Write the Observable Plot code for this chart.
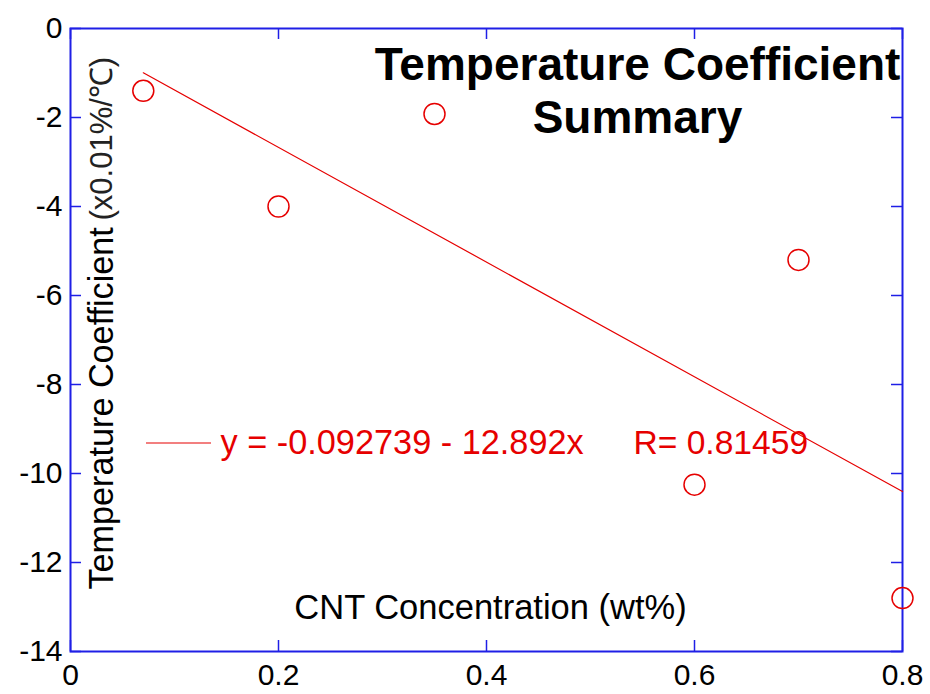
<!DOCTYPE html>
<html><head><meta charset="utf-8">
<script src="https://cdn.jsdelivr.net/npm/d3@7"></script>
<script src="https://cdn.jsdelivr.net/npm/@observablehq/plot@0.6"></script>
<style>body{margin:0;background:#fff;} svg{display:block;}</style>
</head><body><div id="chart"></div>
<script>
const concentration = [0.07, 0.2, 0.35, 0.6, 0.7, 0.8];
const tempCoefficient = [-1.4, -4.0, -1.92, -10.25, -5.2, -12.8];
const fitIntercept = -0.092739;
const fitSlope = -12.892;
const fitR = 0.81459;
const fitRange = [0.07, 0.8];
const xTicks = [0, 0.2, 0.4, 0.6, 0.8];
const yTicks = [0, -2, -4, -6, -8, -10, -12, -14];
const titleLines = ["Temperature Coefficient", "Summary"];
const xLabel = "CNT Concentration (wt%)";
const yLabelMain = "Temperature Coefficient";
const yLabelUnit = "(x0.01%/\u2103)";

const points = concentration.map((x, i) => ({x, y: tempCoefficient[i]}));
const fit = fitRange.map(x => ({x, y: fitIntercept + fitSlope * x}));
const eqText = `y = ${fitIntercept} - ${Math.abs(fitSlope)}x`;
const rText = `R= ${fitR}`;

const W = 930, H = 694;
const mL = 70, mT = 28, mR = 28, mB = 43;
const innerW = W - mL - mR, innerH = H - mT - mB;
const BLUE = "#1f1fe6", RED = "#e60000";
const FONT = "Liberation Sans, Arial, Helvetica, sans-serif";

const chart = Plot.plot({
  width: W, height: H,
  marginLeft: mL, marginTop: mT, marginRight: mR, marginBottom: mB,
  style: {fontFamily: FONT, fontSize: "30px", color: "black", background: "white"},
  x: {domain: [0, 0.8], ticks: xTicks, tickSize: 0, tickPadding: 12, tickFormat: d => String(d), label: null},
  y: {domain: [-14, 0], ticks: yTicks, tickSize: 0, tickPadding: 8, tickFormat: d => String(d), label: null},
  marks: [
    Plot.tickY(yTicks, {y: d => d, stroke: BLUE, strokeWidth: 1.5, insetRight: innerW - 11}),
    Plot.tickY(yTicks, {y: d => d, stroke: BLUE, strokeWidth: 1.5, insetLeft: innerW - 11}),
    Plot.tickX(xTicks, {x: d => d, stroke: BLUE, strokeWidth: 1.5, insetTop: innerH - 11}),
    Plot.tickX(xTicks, {x: d => d, stroke: BLUE, strokeWidth: 1.5, insetBottom: innerH - 11}),
    Plot.frame({stroke: BLUE, strokeWidth: 2}),
    Plot.line(fit, {x: "x", y: "y", stroke: RED, strokeWidth: 1.2}),
    Plot.dot(points, {x: "x", y: "y", r: 10.5, stroke: RED, strokeWidth: 1.5, fill: "none"}),
    Plot.text([titleLines[0]], {frameAnchor: "top", lineAnchor: "middle", dx: 151, dy: 37, text: d => d, fontSize: 46, fontWeight: "bold", fill: "black"}),
    Plot.text([titleLines[1]], {frameAnchor: "top", lineAnchor: "middle", dx: 151, dy: 90, text: d => d, fontSize: 46, fontWeight: "bold", fill: "black"}),
    Plot.text([xLabel], {frameAnchor: "bottom", lineAnchor: "middle", dx: 4, dy: -44, text: d => d, fontSize: 34.5, fill: "black"}),
    Plot.text([yLabelMain], {frameAnchor: "bottom-left", lineAnchor: "middle", dx: 32, dy: -62, rotate: -90, textAnchor: "start", text: d => d, fontSize: 34.2, fill: "black"}),
    Plot.text([yLabelUnit], {frameAnchor: "bottom-left", lineAnchor: "middle", dx: 32, dy: -431, rotate: -90, textAnchor: "start", text: d => d, fontSize: 31, fill: "#222"}),
    Plot.text([eqText], {frameAnchor: "top-left", lineAnchor: "middle", dx: 150, dy: 415, textAnchor: "start", text: d => d, fontSize: 34.3, fill: RED}),
    Plot.text([rText], {frameAnchor: "top-left", lineAnchor: "middle", dx: 563, dy: 415, textAnchor: "start", text: d => d, fontSize: 33.6, fill: RED})
  ]
});
document.getElementById("chart").appendChild(chart);

// legend swatch for the fit line, placed relative to the plot frame
d3.select(chart).append("line")
  .attr("x1", mL + 76).attr("x2", mL + 141)
  .attr("y1", mT + 415).attr("y2", mT + 415)
  .attr("stroke", RED).attr("stroke-width", 1.2);
</script>
</body></html>
